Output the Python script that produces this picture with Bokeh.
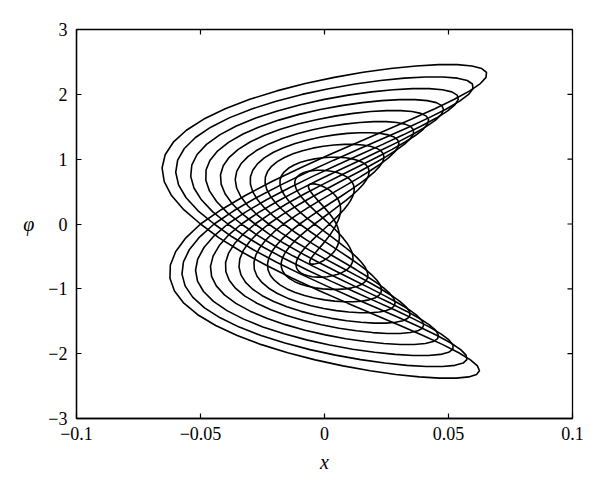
import numpy as np
from bokeh.plotting import figure
from bokeh.models import FixedTicker, Range1d
from bokeh.embed import file_html
from bokeh.resources import INLINE

# ---- axis ticks ----
x_ticks = [-0.1, -0.05, 0.0, 0.05, 0.1]
x_tick_labels = ["−0.1", "−0.05", "0", "0.05", "0.1"]
phi_ticks = [-3, -2, -1, 0, 1, 2, 3]
phi_tick_labels = ["−3", "−2", "−1", "0", "1", "2", "3"]

# ---- per-loop values (outer loop first) ----
# x extent of the upper lobe (tip / left extreme), of the lower lobe
x_amp_upper = [0.0655, 0.0600, 0.0540, 0.0480, 0.0420, 0.0360, 0.0300, 0.0240, 0.0180, 0.0120, 0.0065]
x_amp_lower = [0.0625, 0.0575, 0.0520, 0.0460, 0.0400, 0.0345, 0.0285, 0.0230, 0.0175, 0.0115, 0.0060]
# phi extreme of the upper lobe, of the lower lobe
phi_amp_upper = [2.46, 2.27, 2.09, 1.92, 1.75, 1.58, 1.41, 1.23, 1.03, 0.83, 0.62]
phi_amp_lower = [2.38, 2.20, 2.03, 1.86, 1.69, 1.53, 1.37, 1.20, 1.01, 0.82, 0.62]
# x where each loop crosses itself at phi = 0
x_cross = [-0.0500, -0.0445, -0.0390, -0.0335, -0.0280, -0.0225, -0.0165, -0.0100, -0.0040, 0.0020, 0.0048]

x_min, x_max = x_ticks[0], x_ticks[-1]
phi_min, phi_max = phi_ticks[0], phi_ticks[-1]

p = figure(width=592, height=484,
           x_range=Range1d(x_min, x_max), y_range=Range1d(phi_min, phi_max),
           output_backend="svg", toolbar_location=None,
           min_border_left=76, min_border_right=20,
           min_border_top=29, min_border_bottom=66)
p.background_fill_color = "white"
p.border_fill_color = "white"
p.outline_line_color = "black"
p.outline_line_width = 1.3
p.xgrid.visible = False
p.ygrid.visible = False

xs_all, ys_all = [], []
n_pts = 36
for au, ad, bu, bd, c in zip(x_amp_upper, x_amp_lower, phi_amp_upper, phi_amp_lower, x_cross):
    du = np.arccos(-c / au)
    dd = np.arccos(-c / ad)
    tu = np.linspace(0, np.pi, n_pts)
    td = np.linspace(np.pi, 2 * np.pi, n_pts)
    xu = -au * np.cos(2 * tu + du)
    yu = bu * np.sin(tu)
    xd = -ad * np.cos(2 * td + dd)
    yd = bd * np.sin(td)
    xs_all.append(np.concatenate([xu, xd[1:]]).tolist())
    ys_all.append(np.concatenate([yu, yd[1:]]).tolist())

p.multi_line(xs_all, ys_all, line_color="black", line_width=1.6)

# mirrored inward ticks on the top and right edges of the frame
p.ray(x=x_ticks, y=[phi_max] * len(x_ticks), angle=-np.pi / 2,
      length=5, length_units="screen", line_color="black", line_width=1.2)
p.ray(x=[x_max] * len(phi_ticks), y=phi_ticks, angle=np.pi,
      length=5, length_units="screen", line_color="black", line_width=1.2)

font = "Liberation Serif"

def style_axis(ax):
    ax.axis_line_color = "black"
    ax.axis_line_width = 1.3
    ax.major_tick_line_color = "black"
    ax.major_tick_line_width = 1.2
    ax.major_tick_in = 5
    ax.major_tick_out = 0
    ax.minor_tick_line_color = None
    ax.major_label_text_font = font
    ax.major_label_text_color = "black"
    ax.major_label_text_font_size = "18px"

xa = p.xaxis[0]
xa.ticker = FixedTicker(ticks=x_ticks)
xa.major_label_overrides = {t: l for t, l in zip(x_ticks, x_tick_labels)}
style_axis(xa)
xa.major_label_standoff = 8
xa.axis_label = "x"
xa.axis_label_text_font = font
xa.axis_label_text_font_style = "italic"
xa.axis_label_text_font_size = "20px"
xa.axis_label_standoff = 8
xa.axis_label_text_color = "black"

ya = p.yaxis[0]
ya.ticker = FixedTicker(ticks=phi_ticks)
ya.major_label_overrides = {t: l for t, l in zip(phi_ticks, phi_tick_labels)}
style_axis(ya)
ya.major_label_standoff = 9
ya.axis_label = "φ"
ya.axis_label_orientation = "horizontal"
ya.axis_label_text_font = font
ya.axis_label_text_font_style = "italic"
ya.axis_label_text_font_size = "20px"
ya.axis_label_standoff = 11
ya.axis_label_text_color = "black"

open("out.html", "w").write(file_html(p, INLINE))
